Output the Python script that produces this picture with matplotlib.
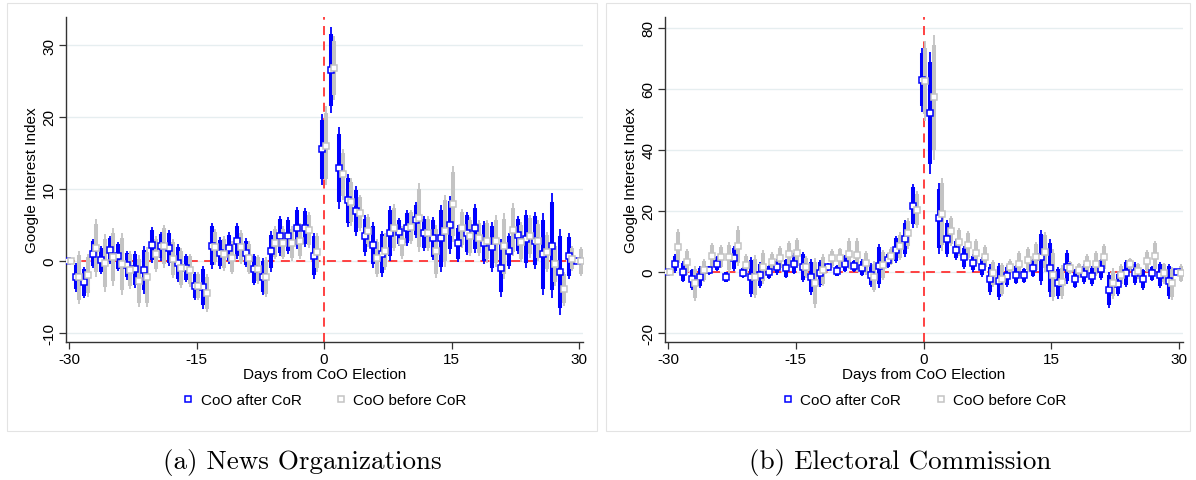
import matplotlib
matplotlib.use("Agg")
import matplotlib.pyplot as plt
from matplotlib.patches import Rectangle
from matplotlib.lines import Line2D
import numpy as np

# ---------------- data ----------------
days = list(range(-30, 31))

# Panel (a) News Organizations
a_after_est = [0, -2.3, -3.0, 1.0, 0.1, 1.5, 0.6, -0.65, -1.2, -1.3,
               2.2, 2.0, 1.75, -0.3, -1.0, -3.5, -3.7, 2.1, 1.1, 1.8,
               2.8, 1.1, -1.2, -2.2, 1.3, 3.4, 3.5, 4.6, 4.6, 0.7,
               15.5, 26.5, 12.9, 8.4, 6.9, 3.5, 2.2, 1.0, 3.8, 4.0,
               4.6, 5.7, 3.8, 3.1, 3.1, 5.0, 2.4, 3.8, 4.5, 2.5,
               1.9, -1.0, 1.4, 3.6, 3.0, 2.8, 0.9, 2.1, -1.6, 0.6, 0.0]
a_after_ci = [0, 2.0, 2.2, 2.0, 2.0, 2.0, 2.0, 2.0, 2.6, 3.3,
              2.5, 2.0, 2.5, 2.6, 2.0, 2.0, 3.0, 3.2, 2.2, 2.2,
              2.5, 2.0, 2.2, 2.6, 2.8, 2.8, 2.6, 2.9, 2.7, 3.2,
              4.9, 6.0, 5.7, 3.7, 3.5, 2.8, 3.2, 3.2, 3.8, 2.0,
              2.5, 2.5, 2.4, 3.0, 4.7, 4.0, 2.6, 3.0, 3.4, 3.0,
              3.5, 4.0, 2.5, 2.6, 4.0, 4.0, 5.7, 7.3, 6.0, 3.2, 0]
a_before_est = [0, -2.3, -2.0, 1.8, -0.3, 0.5, -0.5, -1.3, -2.8, -2.3,
                0.9, 2.0, 0.3, -1.0, -1.3, -3.5, -4.5, 1.9, 1.0, 0.4,
                1.9, 0.4, -1.2, -2.3, 2.5, 2.5, 2.4, 2.8, 4.3, 1.2,
                16.0, 26.8, 12.0, 8.2, 6.7, 4.2, 0.4, 1.3, 4.6, 2.6,
                4.7, 6.0, 3.8, 1.3, 4.2, 7.9, 4.5, 3.4, 3.2, 2.7,
                2.7, 2.0, 4.3, 2.6, 3.4, 2.8, 1.2, -0.5, -3.9, 0.3, -0.1]
a_before_ci = [0, 3.7, 3.0, 4.0, 4.0, 4.0, 4.3, 2.6, 3.6, 4.2,
               2.5, 3.0, 2.7, 2.8, 2.3, 2.0, 2.6, 2.5, 2.4, 2.3,
               2.4, 2.3, 2.0, 2.8, 2.3, 2.3, 2.4, 2.5, 2.5, 2.7,
               5.5, 4.5, 3.5, 3.3, 2.5, 2.3, 2.6, 2.6, 3.3, 2.3,
               2.4, 4.8, 2.4, 3.7, 5.0, 5.3, 2.7, 2.7, 2.5, 3.0,
               3.6, 4.6, 3.7, 2.8, 3.0, 2.8, 2.8, 3.0, 2.4, 1.7, 2.0]

# Panel (b) Electoral Commission
b_after_est = [0, 2.7, 0.0, -2.5, -1.7, 0.5, 2.7, -1.7, 4.4, -0.3,
               -1.7, -1.1, 0.0, 1.6, 1.1, 2.7, 1.6, -1.7, -0.5, 1.6,
               0.3, 2.7, 2.0, 1.3, -1.1, 2.0, 3.8, 7.3, 10.9, 21.6,
               63.0, 52.0, 17.5, 10.9, 7.3, 4.7, 2.9, 1.6, -2.5, -3.1,
               -1.4, -0.9, -1.1, 1.3, 4.7, 1.4, -3.6, 1.6, -2.2, -0.8,
               -1.4, 0.8, -6.0, -4.0, -0.5, -0.5, -2.5, -0.5, -1.1, -3.1, 0.0]
b_after_ci = [0, 3.0, 3.5, 3.5, 3.5, 1.5, 2.5, 1.8, 4.0, 1.8,
              6.5, 4.2, 2.3, 2.5, 3.2, 3.5, 5.0, 6.0, 4.5, 1.3,
              1.8, 2.8, 2.0, 2.8, 4.0, 7.2, 2.5, 4.5, 6.0, 7.2,
              10.5, 20.0, 11.5, 6.2, 3.5, 3.7, 2.8, 3.2, 5.0, 6.0,
              3.5, 3.2, 2.5, 3.0, 9.0, 9.5, 5.2, 5.5, 3.2, 3.2,
              3.2, 3.5, 5.8, 4.0, 4.5, 3.8, 3.5, 2.5, 4.2, 5.8, 0]
b_before_est = [0, 8.0, 3.3, -3.8, 0.5, 5.1, 4.9, 4.7, 8.4, 2.2,
                -1.6, 1.6, 3.3, 4.6, 5.7, 6.2, 1.6, -3.8, 0.5, 4.4,
                4.4, 6.0, 5.5, 2.9, -1.6, 2.2, 5.1, 8.4, 12.6, 20.4,
                62.5, 57.2, 18.9, 13.4, 9.8, 8.7, 6.3, 4.9, -0.5, -2.5,
                1.6, 2.7, 4.0, 4.9, 6.6, -1.1, -3.3, 1.4, 0.5, 2.4,
                2.7, 4.7, -3.8, -1.1, 2.4, 0.3, 3.6, 5.1, -0.5, -3.8, -0.5]
b_before_ci = [0, 6.0, 4.2, 5.8, 3.8, 4.2, 3.8, 5.0, 6.5, 3.5,
               7.0, 5.5, 3.2, 3.8, 4.5, 5.0, 3.5, 8.2, 5.2, 3.0,
               3.5, 5.0, 5.5, 3.8, 5.0, 5.0, 3.0, 4.5, 5.0, 6.0,
               13.0, 20.5, 12.0, 5.0, 4.5, 4.8, 4.5, 4.0, 4.5, 5.5,
               2.5, 4.0, 4.0, 5.0, 6.5, 8.5, 5.5, 2.0, 2.5, 3.5,
               4.0, 4.5, 5.0, 3.5, 2.0, 2.5, 3.5, 5.0, 3.5, 5.5, 3.0]

series_labels = ["CoO after CoR", "CoO before CoR"]
xticks = [-30, -15, 0, 15, 30]
a_yticks = [-10, 0, 10, 20, 30]
b_yticks = [-20, 0, 20, 40, 60, 80]
captions = ["(a) News Organizations", "(b) Electoral Commission"]
xlabel = "Days from CoO Election"
ylabel = "Google Interest Index"

# ---------------- style ----------------
plt.rcParams['font.family'] = ['Liberation Sans', 'DejaVu Sans']
W, H = 1196, 481
fig = plt.figure(figsize=(W / 100, H / 100), dpi=100)

BLUE = "#0000FF"
GRAY = "#C3C3C3"
RED = "#FF3333"
GRID = "#E6EEF0"
INNER = 1.645 / 1.96
MS = 4.0
MEW = 1.1


def px_axes(l, r, t, b):
    return fig.add_axes([l / W, 1 - b / H, (r - l) / W, (b - t) / H])


def draw_series(ax, est, ci, color, offset):
    x = np.array(days) + offset
    est = np.array(est)
    ci = np.array(ci)
    ax.vlines(x, est - ci, est + ci, color=color, lw=1.3, zorder=3)
    ax.vlines(x, est - ci * INNER, est + ci * INNER, color=color, lw=2.9, zorder=3)
    ax.plot(x, est, ls='none', marker='s', ms=MS, mfc='white', mec=color,
            mew=MEW, zorder=4)


def panel(ax, after_est, after_ci, before_est, before_ci, yticks, ylim, width_px):
    ax.set_xlim(-30.35, 30.45)
    ax.set_ylim(*ylim)
    for yv in yticks:
        ax.axhline(yv, color=GRID, lw=1.0, zorder=0)
    ax.axhline(0, color=RED, lw=1.3, ls=(0, (5, 3.5)), zorder=1)
    ax.axvline(0, color=RED, lw=1.3, ls=(0, (5, 3.5)), zorder=1)
    draw_series(ax, after_est, after_ci, BLUE, -0.2)
    draw_series(ax, before_est, before_ci, GRAY, 0.2)
    ax.set_xticks(xticks)
    ax.set_xticklabels([str(v) for v in xticks])
    ax.set_yticks(yticks)
    ax.set_yticklabels([str(v) for v in yticks], rotation=90, va='center')
    for s in ['top', 'right']:
        ax.spines[s].set_visible(False)
    for s in ['left', 'bottom']:
        ax.spines[s].set_color('#333333')
        ax.spines[s].set_linewidth(1.0)
    ax.tick_params(axis='both', direction='out', length=5, width=0.9,
                   color='#333333', labelsize=11, pad=2)
    ax.set_xlabel(xlabel, fontsize=11, labelpad=1)
    ax.set_ylabel(ylabel, fontsize=11, va='center')
    ax.yaxis.set_label_coords(-34 / width_px, 0.5)
    handles = [Line2D([], [], ls='none', marker='s', ms=MS, mfc='white',
                      mec=c, mew=MEW) for c in (BLUE, GRAY)]
    ax.legend(handles, series_labels, loc='center', ncol=2,
              bbox_to_anchor=(0.5, -0.18), frameon=False, fontsize=11,
              handlelength=0.8, handletextpad=0.4, columnspacing=2.2)


# panel frames
for (l, r) in [(7, 597), (606, 1190)]:
    fig.patches.append(Rectangle((l / W, 1 - 432 / H), (r - l) / W, 428 / H,
                                 transform=fig.transFigure, fill=False,
                                 ec='#E3E3E3', lw=0.8))

axa = px_axes(66, 583, 18, 343)
panel(axa, a_after_est, a_after_ci, a_before_est, a_before_ci, a_yticks,
      (-11.3, 33.9), 517)
axb = px_axes(665, 1183, 18, 343)
panel(axb, b_after_est, b_after_ci, b_before_est, b_before_ci, b_yticks,
      (-23.0, 83.5), 518)

fig.text(302 / W, 1 - 462 / H, captions[0], ha='center', va='center',
         fontsize=19.5, family=['cmr10', 'DejaVu Serif'])
fig.text(900 / W, 1 - 462 / H, captions[1], ha='center', va='center',
         fontsize=19.5, family=['cmr10', 'DejaVu Serif'])

fig.savefig("out.png", dpi=100, facecolor='white')
